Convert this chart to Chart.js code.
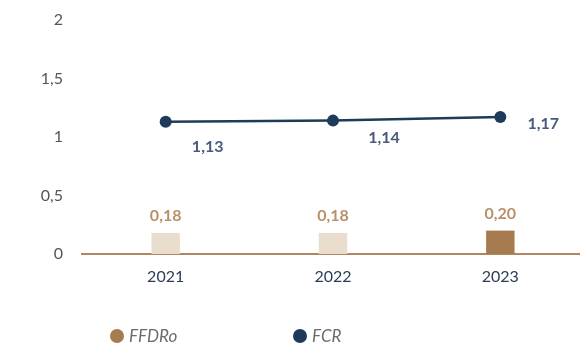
<!DOCTYPE html>
<html>
<head>
<meta charset="utf-8">
<script src="https://cdn.jsdelivr.net/npm/chart.js@4"></script>
<style>
  html, body { margin: 0; padding: 0; background: #fff; overflow: hidden; }
  #wrap { position: relative; width: 590px; height: 348px; }
  #legend { position: absolute; top: 325px; left: 0; width: 580px; font-family: Lato, sans-serif; font-style: italic; font-size: 17px; color: #6b6b6b; }
  #legend span { position: absolute; display: flex; align-items: center; }
  #legend i { display: inline-block; width: 14px; height: 14px; border-radius: 50%; margin-right: 5px; }
</style>
</head>
<body>
<div id="wrap">
  <canvas id="ratioChart" width="590" height="348"></canvas>
  <div id="legend"></div>
</div>
<script>
// values per year
const years = ['2021', '2022', '2023'];
const ffdro = [0.18, 0.18, 0.20];
const fcr = [1.13, 1.14, 1.17];
const yTicks = [0, 0.5, 1, 1.5, 2];

const barColors = ['#e9ddce', '#e9ddce', '#a67b4f'];
const lineColor = '#1f3b5c';
// where each FCR label sits relative to its point
const fcrLabelShift = [[42, 25], [51, 17], [43, 7]];

const fmt = v => v.toFixed(2).replace('.', ',');

// draws the value labels over bars and next to line points
const valueLabels = {
    id: 'valueLabels',
    afterDatasetsDraw(chart) {
        const ctx = chart.ctx;
        ctx.save();
        ctx.font = 'bold 16px Lato, sans-serif';
        ctx.textAlign = 'center';
        ctx.textBaseline = 'middle';
        chart.getDatasetMeta(0).data.forEach((el, i) => {
            ctx.fillStyle = '#b8916a';
            ctx.fillText(fmt(ffdro[i]), el.x, el.y - 17);
        });
        chart.getDatasetMeta(1).data.forEach((el, i) => {
            ctx.fillStyle = '#4a5a7a';
            ctx.fillText(fmt(fcr[i]), el.x + fcrLabelShift[i][0], el.y + fcrLabelShift[i][1]);
        });
        ctx.restore();
    }
};

const chart = new Chart(document.getElementById('ratioChart'), {
    data: {
        labels: years,
        datasets: [
            {
                type: 'bar',
                label: 'FFDRo',
                data: ffdro,
                backgroundColor: barColors,
                barPercentage: 0.17,
                categoryPercentage: 1,
                order: 2
            },
            {
                type: 'line',
                label: 'FCR',
                data: fcr,
                borderColor: lineColor,
                backgroundColor: lineColor,
                borderWidth: 2.5,
                pointRadius: 6,
                pointBackgroundColor: lineColor,
                pointBorderWidth: 0,
                tension: 0,
                order: 1
            }
        ]
    },
    options: {
        responsive: false,
        animation: false,
        layout: { padding: { top: 20, right: 0, bottom: 0, left: 2 } },
        plugins: {
            legend: { display: false },
            tooltip: { enabled: false }
        },
        scales: {
            x: {
                offset: true,
                grid: { display: false, drawTicks: false },
                border: { color: '#b08762', width: 2 },
                ticks: { color: '#2a3c58', padding: 13, font: { family: 'Lato, sans-serif', size: 16 } },
                afterFit: s => { s.height = 94; }
            },
            y: {
                min: 0,
                max: 2,
                afterBuildTicks: s => { s.ticks = yTicks.map(v => ({ value: v })); },
                grid: { display: false, drawTicks: false },
                border: { display: false },
                ticks: {
                    color: '#555',
                    padding: 19,
                    font: { family: 'Lato, sans-serif', size: 16 },
                    callback: v => String(v).replace('.', ',')
                },
                afterFit: s => { s.width = 80; s.paddingTop = 0; s.paddingBottom = 0; }
            }
        }
    },
    plugins: [valueLabels]
});

// legend built from the datasets
const legendPos = [110, 293];
const legendColors = ['#a67b4f', lineColor];
const legend = document.getElementById('legend');
chart.data.datasets.forEach((ds, i) => {
    const item = document.createElement('span');
    item.style.left = legendPos[i] + 'px';
    item.innerHTML = '<i style="background:' + legendColors[i] + '"></i>' + ds.label;
    legend.appendChild(item);
});
</script>
</body>
</html>
